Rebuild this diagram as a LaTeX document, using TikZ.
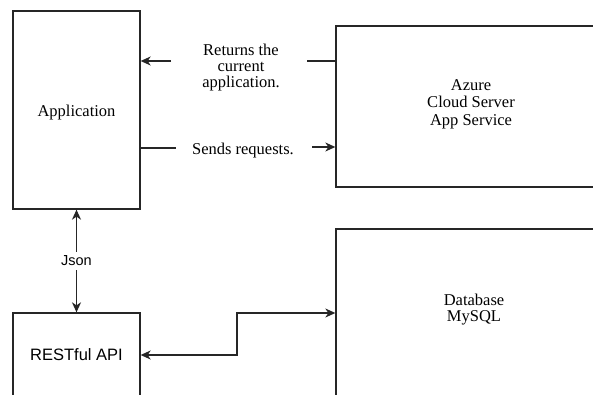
\documentclass[tikz,border=0pt]{standalone}
\usepackage{fontspec}
\setmainfont{Liberation Serif}
\newfontfamily\arialf{Liberation Sans}
\usetikzlibrary{arrows.meta}
\begin{document}
\begin{tikzpicture}[x=1pt,y=-1pt,
  box/.style={draw=black!85,line width=1.3pt,inner sep=0pt,fill=none},
  conn/.style={draw=black!85,line width=1.3pt},
  tip/.tip={Stealth[length=10pt,width=9pt,inset=3pt]},
  serif/.style={font=\fontsize{16.5}{16}\selectfont,align=center,inner sep=0pt},
  sans/.style={font=\arialf\fontsize{16.5}{18}\selectfont,inner sep=0pt},
  jsonlab/.style={font=\arialf\fontsize{14.5}{16}\selectfont,fill=white,inner sep=4pt}
]
\useasboundingbox (0,0) rectangle (593,395);
\clip (0,0) rectangle (593,395);
% boxes
\node[box,minimum width=127pt,minimum height=198pt] (app) at (76.5,110) {};
\node[box,minimum width=270pt,minimum height=161pt] (azure) at (471,106.5) {};
\node[box,minimum width=276pt,minimum height=191pt] (db) at (474,324.5) {};
\node[box,minimum width=127pt,minimum height=107pt] (rest) at (76.5,366.5) {};
% box texts
\node[serif] (apptext) at (76.5,112.5) {Application};
\node[serif,font=\fontsize{16.5}{17.5}\selectfont] (azuretext) at (471,104) {Azure\\Cloud Server\\App Service};
\node[serif] (dbtext) at (474,310) {Database\\MySQL};
\node[sans] (resttext) at (76.5,355) {RESTful API};
% connector labels
\node[serif] (rettext) at (241,68) {Returns the\\current\\application.};
\node[serif] (sndtext) at (243,151) {Sends requests.};
% Returns connector
\coordinate (retA) at (307,61);
\coordinate (retB) at (171,61);
\draw[conn] (azure.west |- retA) -- (retA);
\draw[conn,-tip] (retB) -- (app.east |- retB);
% Sends connector
\coordinate (sndA) at (176,148);
\coordinate (sndB) at (312,147);
\draw[conn] (app.east |- sndA) -- (sndA);
\draw[conn,-tip] (sndB) -- (azure.west |- sndB);
% Json connector
\draw[conn,tip-tip] (app.south) -- node[jsonlab] (json) {Json} (rest.north);
% REST <-> Database
\coordinate (restport) at (140,355);
\coordinate (dbport) at (336,313);
\coordinate (mid) at (237,334);
\draw[conn,tip-tip] (rest.east |- restport) -| (mid) |- (db.west |- dbport);
\end{tikzpicture}
\end{document}
